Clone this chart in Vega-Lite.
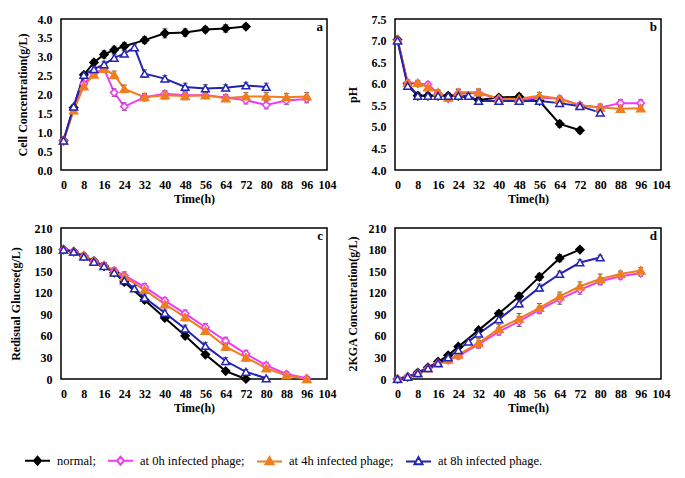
{
"$schema": "https://vega.github.io/schema/vega-lite/v6.json",
"background": "white",
"padding": {"left": 8, "top": 12, "right": 5, "bottom": 5},
"datasets": {"d": [
{"p":"a","s":"normal","t":0,"y":0.78,"e":0.03},{"p":"a","s":"normal","t":4,"y":1.65,"e":0.05},{"p":"a","s":"normal","t":8,"y":2.52,"e":0.05},{"p":"a","s":"normal","t":12,"y":2.85,"e":0.06},{"p":"a","s":"normal","t":16,"y":3.06,"e":0.1},{"p":"a","s":"normal","t":20,"y":3.18,"e":0.1},{"p":"a","s":"normal","t":24,"y":3.28,"e":0.1},{"p":"a","s":"normal","t":32,"y":3.44,"e":0.09},{"p":"a","s":"normal","t":40,"y":3.62,"e":0.12},{"p":"a","s":"normal","t":48,"y":3.64,"e":0.1},{"p":"a","s":"normal","t":56,"y":3.72,"e":0.08},{"p":"a","s":"normal","t":64,"y":3.75,"e":0.1},{"p":"a","s":"normal","t":72,"y":3.8,"e":0.07},
{"p":"a","s":"at 0h infected phage","t":0,"y":0.78,"e":0.03},{"p":"a","s":"at 0h infected phage","t":4,"y":1.6,"e":0.05},{"p":"a","s":"at 0h infected phage","t":8,"y":2.28,"e":0.06},{"p":"a","s":"at 0h infected phage","t":12,"y":2.56,"e":0.07},{"p":"a","s":"at 0h infected phage","t":16,"y":2.68,"e":0.07},{"p":"a","s":"at 0h infected phage","t":20,"y":2.05,"e":0.1},{"p":"a","s":"at 0h infected phage","t":24,"y":1.68,"e":0.1},{"p":"a","s":"at 0h infected phage","t":32,"y":1.93,"e":0.08},{"p":"a","s":"at 0h infected phage","t":40,"y":2.02,"e":0.08},{"p":"a","s":"at 0h infected phage","t":48,"y":1.98,"e":0.09},{"p":"a","s":"at 0h infected phage","t":56,"y":1.98,"e":0.08},{"p":"a","s":"at 0h infected phage","t":64,"y":1.92,"e":0.08},{"p":"a","s":"at 0h infected phage","t":72,"y":1.85,"e":0.1},{"p":"a","s":"at 0h infected phage","t":80,"y":1.72,"e":0.1},{"p":"a","s":"at 0h infected phage","t":88,"y":1.84,"e":0.1},{"p":"a","s":"at 0h infected phage","t":96,"y":1.88,"e":0.1},
{"p":"a","s":"at 4h infected phage","t":0,"y":0.78,"e":0.03},{"p":"a","s":"at 4h infected phage","t":4,"y":1.58,"e":0.05},{"p":"a","s":"at 4h infected phage","t":8,"y":2.22,"e":0.06},{"p":"a","s":"at 4h infected phage","t":12,"y":2.53,"e":0.07},{"p":"a","s":"at 4h infected phage","t":16,"y":2.68,"e":0.07},{"p":"a","s":"at 4h infected phage","t":20,"y":2.52,"e":0.1},{"p":"a","s":"at 4h infected phage","t":24,"y":2.15,"e":0.1},{"p":"a","s":"at 4h infected phage","t":32,"y":1.93,"e":0.1},{"p":"a","s":"at 4h infected phage","t":40,"y":1.98,"e":0.1},{"p":"a","s":"at 4h infected phage","t":48,"y":1.96,"e":0.1},{"p":"a","s":"at 4h infected phage","t":56,"y":1.98,"e":0.07},{"p":"a","s":"at 4h infected phage","t":64,"y":1.9,"e":0.08},{"p":"a","s":"at 4h infected phage","t":72,"y":1.95,"e":0.1},{"p":"a","s":"at 4h infected phage","t":80,"y":1.95,"e":0.1},{"p":"a","s":"at 4h infected phage","t":88,"y":1.93,"e":0.1},{"p":"a","s":"at 4h infected phage","t":96,"y":1.95,"e":0.1},
{"p":"a","s":"at 8h infected phage","t":0,"y":0.78,"e":0.03},{"p":"a","s":"at 8h infected phage","t":4,"y":1.68,"e":0.05},{"p":"a","s":"at 8h infected phage","t":8,"y":2.52,"e":0.06},{"p":"a","s":"at 8h infected phage","t":12,"y":2.67,"e":0.07},{"p":"a","s":"at 8h infected phage","t":16,"y":2.8,"e":0.08},{"p":"a","s":"at 8h infected phage","t":20,"y":2.97,"e":0.08},{"p":"a","s":"at 8h infected phage","t":24,"y":3.08,"e":0.08},{"p":"a","s":"at 8h infected phage","t":28,"y":3.25,"e":0.08},{"p":"a","s":"at 8h infected phage","t":32,"y":2.55,"e":0.1},{"p":"a","s":"at 8h infected phage","t":40,"y":2.42,"e":0.08},{"p":"a","s":"at 8h infected phage","t":48,"y":2.2,"e":0.1},{"p":"a","s":"at 8h infected phage","t":56,"y":2.16,"e":0.1},{"p":"a","s":"at 8h infected phage","t":64,"y":2.18,"e":0.08},{"p":"a","s":"at 8h infected phage","t":72,"y":2.24,"e":0.08},{"p":"a","s":"at 8h infected phage","t":80,"y":2.2,"e":0.1},
{"p":"b","s":"normal","t":0,"y":7.02,"e":0.05},{"p":"b","s":"normal","t":4,"y":6.0,"e":0.05},{"p":"b","s":"normal","t":8,"y":5.72,"e":0.08},{"p":"b","s":"normal","t":12,"y":5.72,"e":0.08},{"p":"b","s":"normal","t":16,"y":5.72,"e":0.06},{"p":"b","s":"normal","t":20,"y":5.72,"e":0.06},{"p":"b","s":"normal","t":24,"y":5.72,"e":0.06},{"p":"b","s":"normal","t":32,"y":5.62,"e":0.08},{"p":"b","s":"normal","t":40,"y":5.68,"e":0.06},{"p":"b","s":"normal","t":48,"y":5.7,"e":0.07},{"p":"b","s":"normal","t":56,"y":5.6,"e":0.06},{"p":"b","s":"normal","t":64,"y":5.07,"e":0.08},{"p":"b","s":"normal","t":72,"y":4.92,"e":0.07},
{"p":"b","s":"at 0h infected phage","t":0,"y":7.0,"e":0.05},{"p":"b","s":"at 0h infected phage","t":4,"y":6.02,"e":0.06},{"p":"b","s":"at 0h infected phage","t":8,"y":6.0,"e":0.06},{"p":"b","s":"at 0h infected phage","t":12,"y":5.98,"e":0.06},{"p":"b","s":"at 0h infected phage","t":16,"y":5.78,"e":0.06},{"p":"b","s":"at 0h infected phage","t":20,"y":5.65,"e":0.06},{"p":"b","s":"at 0h infected phage","t":24,"y":5.78,"e":0.08},{"p":"b","s":"at 0h infected phage","t":32,"y":5.78,"e":0.08},{"p":"b","s":"at 0h infected phage","t":40,"y":5.65,"e":0.06},{"p":"b","s":"at 0h infected phage","t":48,"y":5.62,"e":0.06},{"p":"b","s":"at 0h infected phage","t":56,"y":5.68,"e":0.06},{"p":"b","s":"at 0h infected phage","t":64,"y":5.65,"e":0.06},{"p":"b","s":"at 0h infected phage","t":72,"y":5.5,"e":0.06},{"p":"b","s":"at 0h infected phage","t":80,"y":5.45,"e":0.06},{"p":"b","s":"at 0h infected phage","t":88,"y":5.55,"e":0.08},{"p":"b","s":"at 0h infected phage","t":96,"y":5.55,"e":0.08},
{"p":"b","s":"at 4h infected phage","t":0,"y":7.02,"e":0.05},{"p":"b","s":"at 4h infected phage","t":4,"y":6.03,"e":0.06},{"p":"b","s":"at 4h infected phage","t":8,"y":6.02,"e":0.06},{"p":"b","s":"at 4h infected phage","t":12,"y":5.92,"e":0.06},{"p":"b","s":"at 4h infected phage","t":16,"y":5.8,"e":0.06},{"p":"b","s":"at 4h infected phage","t":20,"y":5.68,"e":0.06},{"p":"b","s":"at 4h infected phage","t":24,"y":5.8,"e":0.08},{"p":"b","s":"at 4h infected phage","t":32,"y":5.8,"e":0.08},{"p":"b","s":"at 4h infected phage","t":40,"y":5.65,"e":0.06},{"p":"b","s":"at 4h infected phage","t":48,"y":5.65,"e":0.06},{"p":"b","s":"at 4h infected phage","t":56,"y":5.72,"e":0.08},{"p":"b","s":"at 4h infected phage","t":64,"y":5.65,"e":0.06},{"p":"b","s":"at 4h infected phage","t":72,"y":5.5,"e":0.06},{"p":"b","s":"at 4h infected phage","t":80,"y":5.45,"e":0.08},{"p":"b","s":"at 4h infected phage","t":88,"y":5.42,"e":0.06},{"p":"b","s":"at 4h infected phage","t":96,"y":5.43,"e":0.05},
{"p":"b","s":"at 8h infected phage","t":0,"y":7.0,"e":0.05},{"p":"b","s":"at 8h infected phage","t":4,"y":5.95,"e":0.05},{"p":"b","s":"at 8h infected phage","t":8,"y":5.72,"e":0.08},{"p":"b","s":"at 8h infected phage","t":12,"y":5.72,"e":0.06},{"p":"b","s":"at 8h infected phage","t":16,"y":5.72,"e":0.06},{"p":"b","s":"at 8h infected phage","t":20,"y":5.72,"e":0.06},{"p":"b","s":"at 8h infected phage","t":24,"y":5.72,"e":0.06},{"p":"b","s":"at 8h infected phage","t":28,"y":5.72,"e":0.05},{"p":"b","s":"at 8h infected phage","t":32,"y":5.6,"e":0.06},{"p":"b","s":"at 8h infected phage","t":40,"y":5.6,"e":0.06},{"p":"b","s":"at 8h infected phage","t":48,"y":5.6,"e":0.06},{"p":"b","s":"at 8h infected phage","t":56,"y":5.6,"e":0.06},{"p":"b","s":"at 8h infected phage","t":64,"y":5.55,"e":0.06},{"p":"b","s":"at 8h infected phage","t":72,"y":5.48,"e":0.06},{"p":"b","s":"at 8h infected phage","t":80,"y":5.33,"e":0.06},
{"p":"c","s":"normal","t":0,"y":180,"e":2},{"p":"c","s":"normal","t":4,"y":177,"e":3},{"p":"c","s":"normal","t":8,"y":171,"e":4},{"p":"c","s":"normal","t":12,"y":164,"e":4},{"p":"c","s":"normal","t":16,"y":157,"e":4},{"p":"c","s":"normal","t":20,"y":148,"e":4},{"p":"c","s":"normal","t":24,"y":135,"e":4},{"p":"c","s":"normal","t":32,"y":110,"e":4},{"p":"c","s":"normal","t":40,"y":85,"e":4},{"p":"c","s":"normal","t":48,"y":60,"e":4},{"p":"c","s":"normal","t":56,"y":34,"e":3},{"p":"c","s":"normal","t":64,"y":11,"e":2},{"p":"c","s":"normal","t":72,"y":0,"e":1},
{"p":"c","s":"at 0h infected phage","t":0,"y":180,"e":2},{"p":"c","s":"at 0h infected phage","t":4,"y":177,"e":3},{"p":"c","s":"at 0h infected phage","t":8,"y":171,"e":3},{"p":"c","s":"at 0h infected phage","t":12,"y":164,"e":3},{"p":"c","s":"at 0h infected phage","t":16,"y":158,"e":4},{"p":"c","s":"at 0h infected phage","t":20,"y":151,"e":4},{"p":"c","s":"at 0h infected phage","t":24,"y":144,"e":5},{"p":"c","s":"at 0h infected phage","t":32,"y":128,"e":5},{"p":"c","s":"at 0h infected phage","t":40,"y":109,"e":4},{"p":"c","s":"at 0h infected phage","t":48,"y":91,"e":5},{"p":"c","s":"at 0h infected phage","t":56,"y":72,"e":5},{"p":"c","s":"at 0h infected phage","t":64,"y":53,"e":5},{"p":"c","s":"at 0h infected phage","t":72,"y":35,"e":5},{"p":"c","s":"at 0h infected phage","t":80,"y":19,"e":4},{"p":"c","s":"at 0h infected phage","t":88,"y":7,"e":3},{"p":"c","s":"at 0h infected phage","t":96,"y":1,"e":2},
{"p":"c","s":"at 4h infected phage","t":0,"y":180,"e":2},{"p":"c","s":"at 4h infected phage","t":4,"y":177,"e":3},{"p":"c","s":"at 4h infected phage","t":8,"y":172,"e":3},{"p":"c","s":"at 4h infected phage","t":12,"y":164,"e":3},{"p":"c","s":"at 4h infected phage","t":16,"y":158,"e":4},{"p":"c","s":"at 4h infected phage","t":20,"y":150,"e":4},{"p":"c","s":"at 4h infected phage","t":24,"y":142,"e":5},{"p":"c","s":"at 4h infected phage","t":32,"y":124,"e":5},{"p":"c","s":"at 4h infected phage","t":40,"y":104,"e":5},{"p":"c","s":"at 4h infected phage","t":48,"y":86,"e":5},{"p":"c","s":"at 4h infected phage","t":56,"y":67,"e":5},{"p":"c","s":"at 4h infected phage","t":64,"y":45,"e":5},{"p":"c","s":"at 4h infected phage","t":72,"y":30,"e":5},{"p":"c","s":"at 4h infected phage","t":80,"y":15,"e":4},{"p":"c","s":"at 4h infected phage","t":88,"y":5,"e":3},{"p":"c","s":"at 4h infected phage","t":96,"y":0,"e":2},
{"p":"c","s":"at 8h infected phage","t":0,"y":180,"e":2},{"p":"c","s":"at 8h infected phage","t":4,"y":177,"e":3},{"p":"c","s":"at 8h infected phage","t":8,"y":170,"e":3},{"p":"c","s":"at 8h infected phage","t":12,"y":163,"e":3},{"p":"c","s":"at 8h infected phage","t":16,"y":157,"e":3},{"p":"c","s":"at 8h infected phage","t":20,"y":148,"e":4},{"p":"c","s":"at 8h infected phage","t":24,"y":137,"e":4},{"p":"c","s":"at 8h infected phage","t":28,"y":126,"e":4},{"p":"c","s":"at 8h infected phage","t":32,"y":113,"e":4},{"p":"c","s":"at 8h infected phage","t":40,"y":92,"e":4},{"p":"c","s":"at 8h infected phage","t":48,"y":70,"e":5},{"p":"c","s":"at 8h infected phage","t":56,"y":46,"e":5},{"p":"c","s":"at 8h infected phage","t":64,"y":25,"e":5},{"p":"c","s":"at 8h infected phage","t":72,"y":10,"e":3},{"p":"c","s":"at 8h infected phage","t":80,"y":1,"e":2},
{"p":"d","s":"normal","t":0,"y":0,"e":1},{"p":"d","s":"normal","t":4,"y":3,"e":1},{"p":"d","s":"normal","t":8,"y":9,"e":2},{"p":"d","s":"normal","t":12,"y":16,"e":2},{"p":"d","s":"normal","t":16,"y":24,"e":3},{"p":"d","s":"normal","t":20,"y":33,"e":3},{"p":"d","s":"normal","t":24,"y":45,"e":3},{"p":"d","s":"normal","t":32,"y":68,"e":3},{"p":"d","s":"normal","t":40,"y":91,"e":4},{"p":"d","s":"normal","t":48,"y":115,"e":5},{"p":"d","s":"normal","t":56,"y":142,"e":5},{"p":"d","s":"normal","t":64,"y":168,"e":5},{"p":"d","s":"normal","t":72,"y":180,"e":3},
{"p":"d","s":"at 0h infected phage","t":0,"y":0,"e":1},{"p":"d","s":"at 0h infected phage","t":4,"y":3,"e":1},{"p":"d","s":"at 0h infected phage","t":8,"y":8,"e":2},{"p":"d","s":"at 0h infected phage","t":12,"y":15,"e":2},{"p":"d","s":"at 0h infected phage","t":16,"y":22,"e":3},{"p":"d","s":"at 0h infected phage","t":20,"y":26,"e":4},{"p":"d","s":"at 0h infected phage","t":24,"y":32,"e":4},{"p":"d","s":"at 0h infected phage","t":32,"y":48,"e":5},{"p":"d","s":"at 0h infected phage","t":40,"y":66,"e":5},{"p":"d","s":"at 0h infected phage","t":48,"y":80,"e":7},{"p":"d","s":"at 0h infected phage","t":56,"y":96,"e":5},{"p":"d","s":"at 0h infected phage","t":64,"y":111,"e":7},{"p":"d","s":"at 0h infected phage","t":72,"y":124,"e":6},{"p":"d","s":"at 0h infected phage","t":80,"y":136,"e":5},{"p":"d","s":"at 0h infected phage","t":88,"y":143,"e":4},{"p":"d","s":"at 0h infected phage","t":96,"y":147,"e":4},
{"p":"d","s":"at 4h infected phage","t":0,"y":0,"e":1},{"p":"d","s":"at 4h infected phage","t":4,"y":3,"e":1},{"p":"d","s":"at 4h infected phage","t":8,"y":8,"e":2},{"p":"d","s":"at 4h infected phage","t":12,"y":15,"e":2},{"p":"d","s":"at 4h infected phage","t":16,"y":22,"e":3},{"p":"d","s":"at 4h infected phage","t":20,"y":27,"e":4},{"p":"d","s":"at 4h infected phage","t":24,"y":34,"e":4},{"p":"d","s":"at 4h infected phage","t":32,"y":50,"e":6},{"p":"d","s":"at 4h infected phage","t":40,"y":70,"e":6},{"p":"d","s":"at 4h infected phage","t":48,"y":84,"e":7},{"p":"d","s":"at 4h infected phage","t":56,"y":99,"e":6},{"p":"d","s":"at 4h infected phage","t":64,"y":115,"e":6},{"p":"d","s":"at 4h infected phage","t":72,"y":129,"e":6},{"p":"d","s":"at 4h infected phage","t":80,"y":139,"e":7},{"p":"d","s":"at 4h infected phage","t":88,"y":146,"e":4},{"p":"d","s":"at 4h infected phage","t":96,"y":151,"e":4},
{"p":"d","s":"at 8h infected phage","t":0,"y":0,"e":1},{"p":"d","s":"at 8h infected phage","t":4,"y":3,"e":1},{"p":"d","s":"at 8h infected phage","t":8,"y":8,"e":2},{"p":"d","s":"at 8h infected phage","t":12,"y":15,"e":2},{"p":"d","s":"at 8h infected phage","t":16,"y":22,"e":2},{"p":"d","s":"at 8h infected phage","t":20,"y":30,"e":3},{"p":"d","s":"at 8h infected phage","t":24,"y":40,"e":3},{"p":"d","s":"at 8h infected phage","t":28,"y":52,"e":3},{"p":"d","s":"at 8h infected phage","t":32,"y":63,"e":3},{"p":"d","s":"at 8h infected phage","t":40,"y":83,"e":4},{"p":"d","s":"at 8h infected phage","t":48,"y":105,"e":5},{"p":"d","s":"at 8h infected phage","t":56,"y":127,"e":5},{"p":"d","s":"at 8h infected phage","t":64,"y":146,"e":4},{"p":"d","s":"at 8h infected phage","t":72,"y":162,"e":4},{"p":"d","s":"at 8h infected phage","t":80,"y":169,"e":3}
]},
"config": {
  "font": "Liberation Serif",
  "view": {"stroke": "black", "strokeWidth": 1.5},
  "axis": {"labelFont": "Liberation Serif", "labelFontWeight": "bold", "labelFontSize": 12, "labelColor": "black", "titleFont": "Liberation Serif", "titleFontWeight": "bold", "titleFontSize": 12, "titleColor": "black", "grid": false, "domain": false, "ticks": false, "labelPadding": 9},
  "axisX": {"titlePadding": 3, "labelOverlap": false, "labelFlush": false},
  "axisY": {"titlePadding": 8},
  "title": {"font": "Liberation Serif", "fontSize": 13, "fontWeight": "bold", "color": "black", "anchor": "end", "frame": "group", "offset": -21, "dx": -4},
  "legend": {
    "orient": "none", "legendX": -37, "legendY": 428, "direction": "horizontal", "title": null,
    "labelFont": "Liberation Serif", "labelFontSize": 12.5, "labelFontWeight": "normal", "labelColor": "black",
    "symbolSize": 625, "symbolStrokeWidth": 2, "labelOffset": 6, "columnPadding": 8
  }
},
"columns": 2,
"spacing": {"row": 58, "column": 68},
"bounds": "flush",
"concat": [
  {"width": 266, "height": 151, "data": {"name": "d"}, "transform": [{"filter": "datum.p == 'a'"}],
   "title": "a",
   "encoding": {
     "x": {"field": "t", "type": "quantitative", "scale": {"domain": [-1, 104], "nice": false}, "axis": {"values": [0,8,16,24,32,40,48,56,64,72,80,88,96,104], "title": "Time(h)"}},
     "y": {"field": "y", "type": "quantitative", "scale": {"domain": [0, 4], "nice": false, "zero": false}, "axis": {"values": [0,0.5,1,1.5,2,2.5,3,3.5,4], "format": ".1f", "title": "Cell Concentration(g/L)"}}
   },
   "layer": [
    {"mark": {"type": "line", "strokeWidth": 2}, "encoding": {"color": {"field": "s", "type": "nominal", "scale": {"domain": ["normal","at 0h infected phage","at 4h infected phage","at 8h infected phage"], "range": ["#000000","#F03CF0","#F07D1E","#2323B4"]},
      "legend": {"labelFont": "Liberation Serif", "labelExpr": "datum.label + (datum.label == 'at 8h infected phage' ? '.' : ';')", "encode": {"symbols": {"update": {
          "shape": {"signal": "datum.value == 'normal' ? 'M-1,0H1M0,-0.32L0.28,0L0,0.32L-0.28,0Z' : datum.value == 'at 0h infected phage' ? 'M-1,0H-0.28M0.28,0H1M0,-0.32L0.28,0L0,0.32L-0.28,0Z' : datum.value == 'at 4h infected phage' ? 'M-1,0H1M0,-0.34L0.32,0.22L-0.32,0.22Z' : 'M-1,0H-0.194M0.194,0H1M0,-0.34L0.32,0.22L-0.32,0.22Z'"},
          "fill": {"signal": "datum.value == 'normal' ? '#000000' : datum.value == 'at 4h infected phage' ? '#F07D1E' : '#ffffff'"},
          "fillOpacity": {"value": 1}}}}}}}},
    {"mark": {"type": "errorbar", "ticks": {"size": 5}, "color": "#222222", "thickness": 1}, "encoding": {"yError": {"field": "e"}}},
    {"transform": [{"filter": "datum.s == 'normal'"}], "mark": {"type": "point", "shape": "diamond", "size": 55, "filled": true, "fill": "#000000", "stroke": "#000000", "opacity": 1}},
    {"transform": [{"filter": "datum.s == 'at 0h infected phage'"}], "mark": {"type": "point", "shape": "diamond", "size": 55, "filled": true, "fill": "#ffffff", "stroke": "#F03CF0", "strokeWidth": 1.5, "opacity": 1}},
    {"transform": [{"filter": "datum.s == 'at 4h infected phage'"}], "mark": {"type": "point", "shape": "triangle-up", "size": 55, "filled": true, "fill": "#F07D1E", "stroke": "#F07D1E", "opacity": 1}},
    {"transform": [{"filter": "datum.s == 'at 8h infected phage'"}], "mark": {"type": "point", "shape": "triangle-up", "size": 60, "filled": true, "fill": "#ffffff", "stroke": "#2323B4", "strokeWidth": 1.5, "opacity": 1}}
   ]},
  {"width": 266, "height": 151, "data": {"name": "d"}, "transform": [{"filter": "datum.p == 'b'"}],
   "title": "b",
   "encoding": {
     "x": {"field": "t", "type": "quantitative", "scale": {"domain": [-1, 104], "nice": false}, "axis": {"values": [0,8,16,24,32,40,48,56,64,72,80,88,96,104], "title": "Time(h)"}},
     "y": {"field": "y", "type": "quantitative", "scale": {"domain": [4, 7.5], "nice": false, "zero": false}, "axis": {"values": [4,4.5,5,5.5,6,6.5,7,7.5], "format": ".1f", "title": "pH", "titlePadding": 12}}
   },
   "layer": [
    {"mark": {"type": "line", "strokeWidth": 2}, "encoding": {"color": {"field": "s", "type": "nominal", "scale": {"domain": ["normal","at 0h infected phage","at 4h infected phage","at 8h infected phage"], "range": ["#000000","#F03CF0","#F07D1E","#2323B4"]},
      "legend": {"labelFont": "Liberation Serif", "labelExpr": "datum.label + (datum.label == 'at 8h infected phage' ? '.' : ';')", "encode": {"symbols": {"update": {
          "shape": {"signal": "datum.value == 'normal' ? 'M-1,0H1M0,-0.32L0.28,0L0,0.32L-0.28,0Z' : datum.value == 'at 0h infected phage' ? 'M-1,0H-0.28M0.28,0H1M0,-0.32L0.28,0L0,0.32L-0.28,0Z' : datum.value == 'at 4h infected phage' ? 'M-1,0H1M0,-0.34L0.32,0.22L-0.32,0.22Z' : 'M-1,0H-0.194M0.194,0H1M0,-0.34L0.32,0.22L-0.32,0.22Z'"},
          "fill": {"signal": "datum.value == 'normal' ? '#000000' : datum.value == 'at 4h infected phage' ? '#F07D1E' : '#ffffff'"},
          "fillOpacity": {"value": 1}}}}}}}},
    {"mark": {"type": "errorbar", "ticks": {"size": 5}, "color": "#222222", "thickness": 1}, "encoding": {"yError": {"field": "e"}}},
    {"transform": [{"filter": "datum.s == 'normal'"}], "mark": {"type": "point", "shape": "diamond", "size": 55, "filled": true, "fill": "#000000", "stroke": "#000000", "opacity": 1}},
    {"transform": [{"filter": "datum.s == 'at 0h infected phage'"}], "mark": {"type": "point", "shape": "diamond", "size": 55, "filled": true, "fill": "#ffffff", "stroke": "#F03CF0", "strokeWidth": 1.5, "opacity": 1}},
    {"transform": [{"filter": "datum.s == 'at 4h infected phage'"}], "mark": {"type": "point", "shape": "triangle-up", "size": 55, "filled": true, "fill": "#F07D1E", "stroke": "#F07D1E", "opacity": 1}},
    {"transform": [{"filter": "datum.s == 'at 8h infected phage'"}], "mark": {"type": "point", "shape": "triangle-up", "size": 60, "filled": true, "fill": "#ffffff", "stroke": "#2323B4", "strokeWidth": 1.5, "opacity": 1}}
   ]},
  {"width": 266, "height": 151, "data": {"name": "d"}, "transform": [{"filter": "datum.p == 'c'"}],
   "title": "c",
   "encoding": {
     "x": {"field": "t", "type": "quantitative", "scale": {"domain": [-1, 104], "nice": false}, "axis": {"values": [0,8,16,24,32,40,48,56,64,72,80,88,96,104], "title": "Time(h)"}},
     "y": {"field": "y", "type": "quantitative", "scale": {"domain": [0, 210], "nice": false}, "axis": {"values": [0,30,60,90,120,150,180,210], "title": "Redisual Glucose(g/L)", "titlePadding": 12}}
   },
   "layer": [
    {"mark": {"type": "line", "strokeWidth": 2}, "encoding": {"color": {"field": "s", "type": "nominal", "scale": {"domain": ["normal","at 0h infected phage","at 4h infected phage","at 8h infected phage"], "range": ["#000000","#F03CF0","#F07D1E","#2323B4"]},
      "legend": {"labelFont": "Liberation Serif", "labelExpr": "datum.label + (datum.label == 'at 8h infected phage' ? '.' : ';')", "encode": {"symbols": {"update": {
          "shape": {"signal": "datum.value == 'normal' ? 'M-1,0H1M0,-0.32L0.28,0L0,0.32L-0.28,0Z' : datum.value == 'at 0h infected phage' ? 'M-1,0H-0.28M0.28,0H1M0,-0.32L0.28,0L0,0.32L-0.28,0Z' : datum.value == 'at 4h infected phage' ? 'M-1,0H1M0,-0.34L0.32,0.22L-0.32,0.22Z' : 'M-1,0H-0.194M0.194,0H1M0,-0.34L0.32,0.22L-0.32,0.22Z'"},
          "fill": {"signal": "datum.value == 'normal' ? '#000000' : datum.value == 'at 4h infected phage' ? '#F07D1E' : '#ffffff'"},
          "fillOpacity": {"value": 1}}}}}}}},
    {"mark": {"type": "errorbar", "ticks": {"size": 5}, "color": "#222222", "thickness": 1}, "encoding": {"yError": {"field": "e"}}},
    {"transform": [{"filter": "datum.s == 'normal'"}], "mark": {"type": "point", "shape": "diamond", "size": 55, "filled": true, "fill": "#000000", "stroke": "#000000", "opacity": 1}},
    {"transform": [{"filter": "datum.s == 'at 0h infected phage'"}], "mark": {"type": "point", "shape": "diamond", "size": 55, "filled": true, "fill": "#ffffff", "stroke": "#F03CF0", "strokeWidth": 1.5, "opacity": 1}},
    {"transform": [{"filter": "datum.s == 'at 4h infected phage'"}], "mark": {"type": "point", "shape": "triangle-up", "size": 55, "filled": true, "fill": "#F07D1E", "stroke": "#F07D1E", "opacity": 1}},
    {"transform": [{"filter": "datum.s == 'at 8h infected phage'"}], "mark": {"type": "point", "shape": "triangle-up", "size": 60, "filled": true, "fill": "#ffffff", "stroke": "#2323B4", "strokeWidth": 1.5, "opacity": 1}}
   ]},
  {"width": 266, "height": 151, "data": {"name": "d"}, "transform": [{"filter": "datum.p == 'd'"}],
   "title": "d",
   "encoding": {
     "x": {"field": "t", "type": "quantitative", "scale": {"domain": [-1, 104], "nice": false}, "axis": {"values": [0,8,16,24,32,40,48,56,64,72,80,88,96,104], "title": "Time(h)"}},
     "y": {"field": "y", "type": "quantitative", "scale": {"domain": [0, 210], "nice": false}, "axis": {"values": [0,30,60,90,120,150,180,210], "title": "2KGA Concentration(g/L)", "titlePadding": 9}}
   },
   "layer": [
    {"mark": {"type": "line", "strokeWidth": 2}, "encoding": {"color": {"field": "s", "type": "nominal", "scale": {"domain": ["normal","at 0h infected phage","at 4h infected phage","at 8h infected phage"], "range": ["#000000","#F03CF0","#F07D1E","#2323B4"]},
      "legend": {"labelFont": "Liberation Serif", "labelExpr": "datum.label + (datum.label == 'at 8h infected phage' ? '.' : ';')", "encode": {"symbols": {"update": {
          "shape": {"signal": "datum.value == 'normal' ? 'M-1,0H1M0,-0.32L0.28,0L0,0.32L-0.28,0Z' : datum.value == 'at 0h infected phage' ? 'M-1,0H-0.28M0.28,0H1M0,-0.32L0.28,0L0,0.32L-0.28,0Z' : datum.value == 'at 4h infected phage' ? 'M-1,0H1M0,-0.34L0.32,0.22L-0.32,0.22Z' : 'M-1,0H-0.194M0.194,0H1M0,-0.34L0.32,0.22L-0.32,0.22Z'"},
          "fill": {"signal": "datum.value == 'normal' ? '#000000' : datum.value == 'at 4h infected phage' ? '#F07D1E' : '#ffffff'"},
          "fillOpacity": {"value": 1}}}}}}}},
    {"mark": {"type": "errorbar", "ticks": {"size": 5}, "color": "#222222", "thickness": 1}, "encoding": {"yError": {"field": "e"}}},
    {"transform": [{"filter": "datum.s == 'normal'"}], "mark": {"type": "point", "shape": "diamond", "size": 55, "filled": true, "fill": "#000000", "stroke": "#000000", "opacity": 1}},
    {"transform": [{"filter": "datum.s == 'at 0h infected phage'"}], "mark": {"type": "point", "shape": "diamond", "size": 55, "filled": true, "fill": "#ffffff", "stroke": "#F03CF0", "strokeWidth": 1.5, "opacity": 1}},
    {"transform": [{"filter": "datum.s == 'at 4h infected phage'"}], "mark": {"type": "point", "shape": "triangle-up", "size": 55, "filled": true, "fill": "#F07D1E", "stroke": "#F07D1E", "opacity": 1}},
    {"transform": [{"filter": "datum.s == 'at 8h infected phage'"}], "mark": {"type": "point", "shape": "triangle-up", "size": 60, "filled": true, "fill": "#ffffff", "stroke": "#2323B4", "strokeWidth": 1.5, "opacity": 1}}
   ]}
]
}
